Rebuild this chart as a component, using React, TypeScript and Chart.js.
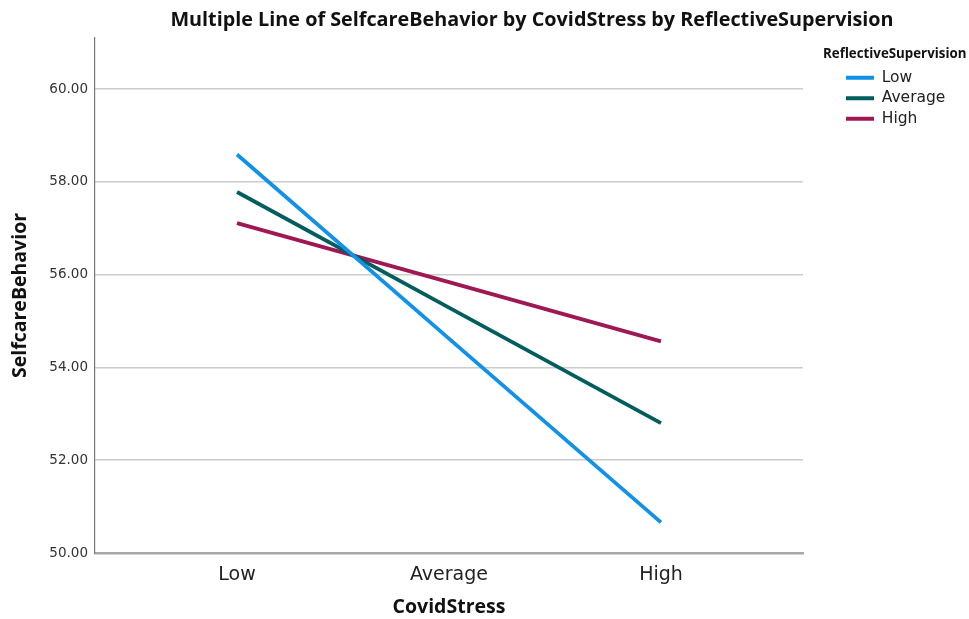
import { useEffect, useRef } from 'react';
import { Chart, registerables } from 'chart.js';

Chart.register(...registerables);

const categories = ['Low', 'Average', 'High'];
const seriesNames = ['Low', 'Average', 'High'];
const lowValues = [58.59, 54.62, 50.66];
const averageValues = [57.78, 55.29, 52.8];
const highValues = [57.11, 55.84, 54.56];
const yTickValues = [50, 52, 54, 56, 58, 60];
const seriesColors = ['#1192e8', '#005d5d', '#9f1853'];

const chartTitle = 'Multiple Line of SelfcareBehavior by CovidStress by ReflectiveSupervision';
const legendTitle = 'ReflectiveSupervision';
const xTitle = 'CovidStress';
const yTitle = 'SelfcareBehavior';

const TITLE_FONT = '"Open Sans", "DejaVu Sans", sans-serif';
const BODY_FONT = '"DejaVu Sans", "Open Sans", sans-serif';

const decorPlugin = {
  id: 'decor',
  afterLayout(chart: any) {
    const lg = chart.legend;
    if (lg) {
      lg.left = 841;
      lg.right = 969;
      lg.width = 128;
      lg.top = 65;
      lg.bottom = 200;
      lg.height = 135;
    }
  },
  afterDraw(chart: any) {
    const ctx = chart.ctx;
    ctx.save();
    ctx.fillStyle = '#111';
    ctx.textBaseline = 'alphabetic';
    ctx.textAlign = 'center';
    ctx.font = `bold 19.8px ${TITLE_FONT}`;
    ctx.fillText(chartTitle, (chart.chartArea.left + chart.width) / 2, 26);
    ctx.textAlign = 'left';
    ctx.font = `bold 13.3px ${TITLE_FONT}`;
    ctx.fillText(legendTitle, 823, 58);
    ctx.restore();
  },
};

export default function App() {
  const canvasRef = useRef<HTMLCanvasElement | null>(null);

  useEffect(() => {
    if (!canvasRef.current) return;
    const seriesValues = [lowValues, averageValues, highValues];
    const chart = new Chart(canvasRef.current, {
      type: 'line',
      data: {
        datasets: seriesValues.map((vals, i) => ({
          label: seriesNames[i],
          data: vals.map((y, j) => ({ x: j, y })),
          borderColor: seriesColors[i],
          backgroundColor: seriesColors[i],
          borderWidth: 3.8,
          pointRadius: 0,
          tension: 0,
          fill: false,
        })),
      },
      options: {
        animation: false,
        responsive: true,
        maintainAspectRatio: false,
        events: [],
        layout: { padding: { top: 38, left: 0, right: 166, bottom: 0 } },
        plugins: {
          title: { display: false },
          tooltip: { enabled: false },
          legend: {
            display: true,
            position: 'chartArea',
            align: 'start',
            labels: {
              boxWidth: 28,
              boxHeight: 4,
              padding: 5,
              font: { family: BODY_FONT, size: 15.5 },
              color: '#222',
              generateLabels: (c: any) =>
                c.data.datasets.map((ds: any, i: number) => ({
                  text: ds.label,
                  fillStyle: ds.borderColor,
                  strokeStyle: ds.borderColor,
                  lineWidth: 0,
                  fontColor: '#222',
                  hidden: false,
                  datasetIndex: i,
                })),
            },
          },
        },
        scales: {
          x: {
            type: 'linear',
            min: -0.67,
            max: 2.67,
            afterBuildTicks: (s: any) => {
              s.ticks = categories.map((_, i) => ({ value: i }));
            },
            afterFit: (s: any) => {
              s.height = 66;
            },
            grid: { display: false, drawTicks: false },
            border: { display: true, color: '#a8a8a8', width: 2.5 },
            ticks: {
              padding: 10.5,
              autoSkip: false,
              maxRotation: 0,
              color: '#222',
              font: { family: BODY_FONT, size: 19 },
              callback: (v: any) => categories[Number(v)] ?? '',
            },
            title: {
              display: true,
              text: xTitle,
              color: '#111',
              font: { family: TITLE_FONT, size: 19.5, weight: 'bold' },
              padding: { top: 0, bottom: 0 },
            },
          },
          y: {
            type: 'linear',
            min: 50,
            max: 61.1,
            afterBuildTicks: (s: any) => {
              s.ticks = yTickValues.map((v) => ({ value: v }));
            },
            afterFit: (s: any) => {
              s.width = 95;
            },
            grid: {
              drawTicks: false,
              lineWidth: 1.5,
              color: (ctx: any) => (ctx.tick && ctx.tick.value === 50 ? 'rgba(0,0,0,0)' : '#cccccc'),
            },
            border: { display: true, color: '#777777', width: 1.2 },
            ticks: {
              padding: 7,
              color: '#333',
              font: { family: BODY_FONT, size: 13.5 },
              callback: (v: any) => Number(v).toFixed(2),
            },
            title: {
              display: true,
              text: yTitle,
              color: '#111',
              font: { family: TITLE_FONT, size: 19.5, weight: 'bold' },
              padding: { top: 9, bottom: 0 },
            },
          },
        },
      } as any,
      plugins: [decorPlugin],
    });
    return () => chart.destroy();
  }, []);

  return (
    <div style={{ position: 'fixed', left: 0, top: 0, width: 969, height: 619, background: '#fff' }}>
      <canvas ref={canvasRef} style={{ display: 'block' }} />
    </div>
  );
}
